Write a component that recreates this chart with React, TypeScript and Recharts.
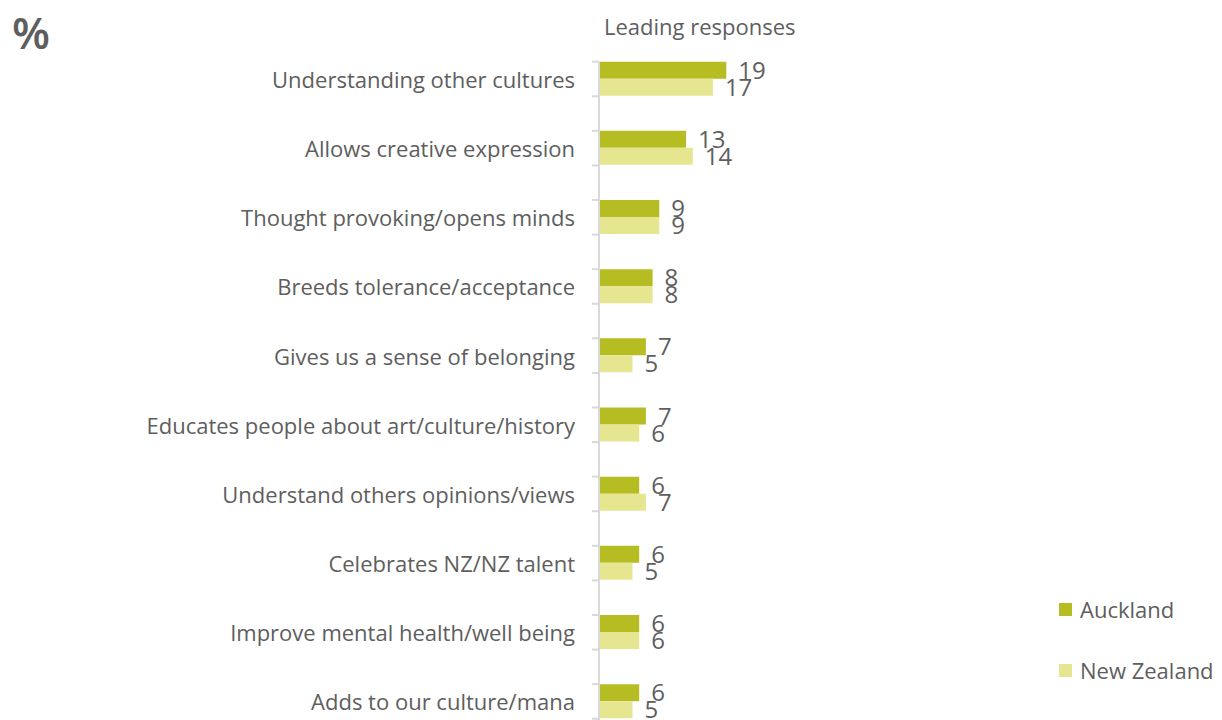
import React from "react";
import { BarChart, Bar, XAxis, YAxis, LabelList } from "recharts";

const categories = [
  "Understanding other cultures",
  "Allows creative expression",
  "Thought provoking/opens minds",
  "Breeds tolerance/acceptance",
  "Gives us a sense of belonging",
  "Educates people about art/culture/history",
  "Understand others opinions/views",
  "Celebrates NZ/NZ talent",
  "Improve mental health/well being",
  "Adds to our culture/mana",
];
const auckland = [19, 13, 9, 8, 7, 7, 6, 6, 6, 6];
const newZealand = [17, 14, 9, 8, 5, 6, 7, 5, 6, 5];
const seriesNames = ["Auckland", "New Zealand"];

const AKL = "#b5bd22";
const NZ = "#e6e690";
const GREY = "#5e5e5e";
const AXIS = "#d9d9d9";
const FONT = "'Open Sans', sans-serif";

const data = categories.map((name, i) => ({
  name,
  auckland: auckland[i],
  newZealand: newZealand[i],
}));

const HALF = 17.3;

function CategoryTick(props: any) {
  const { x, y, payload } = props;
  return (
    <g>
      <line x1={x} x2={x} y1={y - HALF} y2={y + HALF * 3} stroke={AXIS} strokeWidth={2} />
      <line x1={x - 7} x2={x} y1={y - HALF} y2={y - HALF} stroke={AXIS} strokeWidth={2} />
      <line x1={x - 7} x2={x} y1={y + HALF} y2={y + HALF} stroke={AXIS} strokeWidth={2} />
      <text x={x - 24} y={y} textAnchor="end" dominantBaseline="central" fill={GREY} fontSize={22}>
        {payload.value}
      </text>
    </g>
  );
}

export default function App() {
  return (
    <div style={{ position: "relative", width: 1214, height: 712, overflow: "hidden", fontFamily: FONT }}>
      <div style={{ position: "absolute", left: 4, top: -6, fontSize: 44, fontWeight: 600, color: GREY }}>%</div>
      <div style={{ position: "absolute", left: 596, top: 3, fontSize: 22, color: GREY }}>
        Leading responses
      </div>
      <BarChart
        width={1214}
        height={728}
        layout="vertical"
        data={data}
        margin={{ top: 36.4, right: 221, bottom: 0, left: 0 }}
        barCategoryGap="25%"
        barGap={0}
      >
        <XAxis type="number" domain={[0, 60]} hide />
        <YAxis
          type="category"
          dataKey="name"
          width={591}
          axisLine={false}
          tickLine={false}
          tickSize={0}
          tickMargin={0}
          interval={0}
          tick={<CategoryTick />}
        />
        <Bar dataKey="auckland" name={seriesNames[0]} fill={AKL} isAnimationActive={false}>
          <LabelList dataKey="auckland" position="right" offset={12} fill={GREY} fontSize={24} />
        </Bar>
        <Bar dataKey="newZealand" name={seriesNames[1]} fill={NZ} isAnimationActive={false}>
          <LabelList dataKey="newZealand" position="right" offset={12} fill={GREY} fontSize={24} />
        </Bar>
      </BarChart>
      {seriesNames.map((s, i) => (
        <div
          key={s}
          style={{
            position: "absolute",
            left: 1051,
            top: 586 + i * 61,
            display: "flex",
            alignItems: "center",
            fontSize: 22,
            color: GREY,
          }}
        >
          <span style={{ width: 13, height: 13, background: i === 0 ? AKL : NZ, marginRight: 8 }} />
          {s}
        </div>
      ))}
    </div>
  );
}
